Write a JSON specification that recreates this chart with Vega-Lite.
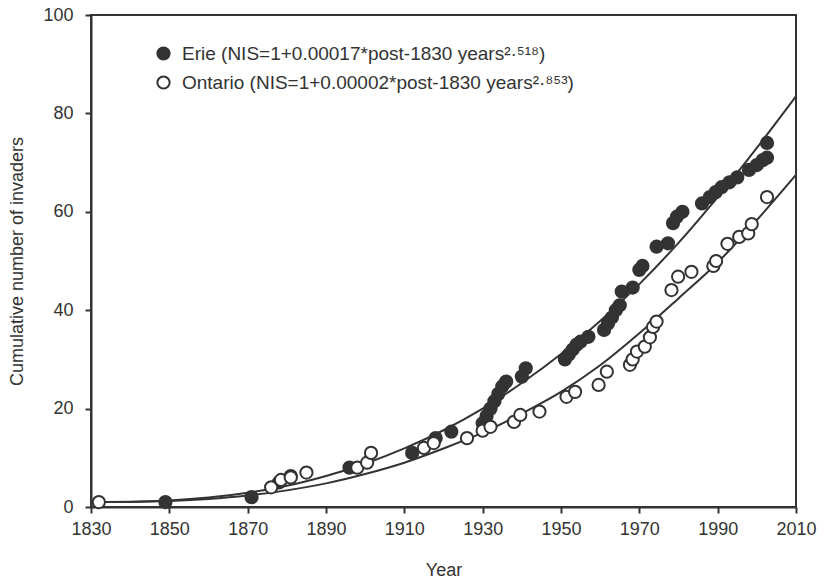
{
  "$schema": "https://vega.github.io/schema/vega-lite/v6.json",
  "width": 705,
  "height": 492,
  "autosize": {"type": "none"},
  "padding": {"left": 91, "top": 15, "right": 38, "bottom": 78},
  "background": "white",
  "config": {
    "view": {"stroke": "#333333", "strokeWidth": 2},
    "font": "Liberation Sans",
    "axis": {
      "domainColor": "#333333", "domainWidth": 2, "tickColor": "#333333", "tickWidth": 2,
      "labelColor": "#333333", "titleColor": "#333333", "labelFontSize": 18, "titleFontSize": 18,
      "titleFontWeight": "normal", "grid": false, "tickSize": 6, "labelFont": "Liberation Sans", "titleFont": "Liberation Sans",
      "labelFlush": false, "labelOverlap": false
    }
  },
  "datasets": {
    "curves": [
      {"series": "Erie", "year": 1830, "value": 1.0},
      {"series": "Erie", "year": 1840, "value": 1.06},
      {"series": "Erie", "year": 1850, "value": 1.33},
      {"series": "Erie", "year": 1860, "value": 1.92},
      {"series": "Erie", "year": 1870, "value": 2.9},
      {"series": "Erie", "year": 1880, "value": 4.3},
      {"series": "Erie", "year": 1890, "value": 6.3},
      {"series": "Erie", "year": 1900, "value": 8.8},
      {"series": "Erie", "year": 1910, "value": 11.9},
      {"series": "Erie", "year": 1920, "value": 15.6},
      {"series": "Erie", "year": 1930, "value": 20.0},
      {"series": "Erie", "year": 1940, "value": 25.2},
      {"series": "Erie", "year": 1950, "value": 31.1},
      {"series": "Erie", "year": 1960, "value": 37.8},
      {"series": "Erie", "year": 1970, "value": 45.3},
      {"series": "Erie", "year": 1980, "value": 53.7},
      {"series": "Erie", "year": 1990, "value": 63.0},
      {"series": "Erie", "year": 2000, "value": 73.0},
      {"series": "Erie", "year": 2010, "value": 83.5},
      {"series": "Ontario", "year": 1830, "value": 1.0},
      {"series": "Ontario", "year": 1840, "value": 1.04},
      {"series": "Ontario", "year": 1850, "value": 1.22},
      {"series": "Ontario", "year": 1860, "value": 1.63},
      {"series": "Ontario", "year": 1870, "value": 2.33},
      {"series": "Ontario", "year": 1880, "value": 3.38},
      {"series": "Ontario", "year": 1890, "value": 4.8},
      {"series": "Ontario", "year": 1900, "value": 6.7},
      {"series": "Ontario", "year": 1910, "value": 9.0},
      {"series": "Ontario", "year": 1920, "value": 11.9},
      {"series": "Ontario", "year": 1930, "value": 15.1},
      {"series": "Ontario", "year": 1940, "value": 19.0},
      {"series": "Ontario", "year": 1950, "value": 23.4},
      {"series": "Ontario", "year": 1960, "value": 28.8},
      {"series": "Ontario", "year": 1970, "value": 35.3},
      {"series": "Ontario", "year": 1980, "value": 42.4},
      {"series": "Ontario", "year": 1990, "value": 49.7},
      {"series": "Ontario", "year": 2000, "value": 58.3},
      {"series": "Ontario", "year": 2010, "value": 67.5}
    ],
    "points": [
      {"series": "Erie", "year": 1849, "value": 1},
      {"series": "Erie", "year": 1871, "value": 2},
      {"series": "Erie", "year": 1878, "value": 5},
      {"series": "Erie", "year": 1881, "value": 6.3},
      {"series": "Erie", "year": 1896, "value": 8},
      {"series": "Erie", "year": 1912, "value": 11},
      {"series": "Erie", "year": 1918, "value": 14},
      {"series": "Erie", "year": 1922, "value": 15.3},
      {"series": "Erie", "year": 1930, "value": 17},
      {"series": "Erie", "year": 1931, "value": 18.5},
      {"series": "Erie", "year": 1932, "value": 20},
      {"series": "Erie", "year": 1933, "value": 21.5},
      {"series": "Erie", "year": 1934, "value": 23},
      {"series": "Erie", "year": 1935, "value": 24.5},
      {"series": "Erie", "year": 1936, "value": 25.5},
      {"series": "Erie", "year": 1940, "value": 26.5},
      {"series": "Erie", "year": 1941, "value": 28.2},
      {"series": "Erie", "year": 1951, "value": 30},
      {"series": "Erie", "year": 1952, "value": 31},
      {"series": "Erie", "year": 1953, "value": 32},
      {"series": "Erie", "year": 1954, "value": 33},
      {"series": "Erie", "year": 1955, "value": 33.6},
      {"series": "Erie", "year": 1957, "value": 34.6},
      {"series": "Erie", "year": 1961, "value": 36},
      {"series": "Erie", "year": 1962, "value": 37.3},
      {"series": "Erie", "year": 1963, "value": 38.5},
      {"series": "Erie", "year": 1964, "value": 40},
      {"series": "Erie", "year": 1965, "value": 41},
      {"series": "Erie", "year": 1965.5, "value": 43.8},
      {"series": "Erie", "year": 1968.3, "value": 44.6},
      {"series": "Erie", "year": 1970, "value": 48.2},
      {"series": "Erie", "year": 1970.8, "value": 49},
      {"series": "Erie", "year": 1974.4, "value": 52.9},
      {"series": "Erie", "year": 1977.3, "value": 53.6},
      {"series": "Erie", "year": 1978.6, "value": 57.7},
      {"series": "Erie", "year": 1979.6, "value": 59},
      {"series": "Erie", "year": 1981, "value": 60},
      {"series": "Erie", "year": 1986, "value": 61.7},
      {"series": "Erie", "year": 1988, "value": 63},
      {"series": "Erie", "year": 1989.5, "value": 64},
      {"series": "Erie", "year": 1991, "value": 65},
      {"series": "Erie", "year": 1993, "value": 66},
      {"series": "Erie", "year": 1995, "value": 67},
      {"series": "Erie", "year": 1998, "value": 68.5},
      {"series": "Erie", "year": 2000, "value": 69.5},
      {"series": "Erie", "year": 2001.5, "value": 70.5},
      {"series": "Erie", "year": 2002.6, "value": 71},
      {"series": "Erie", "year": 2002.6, "value": 74},
      {"series": "Ontario", "year": 1832, "value": 1},
      {"series": "Ontario", "year": 1876, "value": 4},
      {"series": "Ontario", "year": 1878.5, "value": 5.5},
      {"series": "Ontario", "year": 1881, "value": 6},
      {"series": "Ontario", "year": 1885, "value": 7},
      {"series": "Ontario", "year": 1898, "value": 8},
      {"series": "Ontario", "year": 1900.5, "value": 9},
      {"series": "Ontario", "year": 1901.5, "value": 11},
      {"series": "Ontario", "year": 1915, "value": 12},
      {"series": "Ontario", "year": 1917.5, "value": 13},
      {"series": "Ontario", "year": 1926, "value": 14},
      {"series": "Ontario", "year": 1930, "value": 15.5},
      {"series": "Ontario", "year": 1932, "value": 16.3},
      {"series": "Ontario", "year": 1938, "value": 17.3},
      {"series": "Ontario", "year": 1939.6, "value": 18.7},
      {"series": "Ontario", "year": 1944.5, "value": 19.4},
      {"series": "Ontario", "year": 1951.4, "value": 22.4},
      {"series": "Ontario", "year": 1953.6, "value": 23.4},
      {"series": "Ontario", "year": 1959.6, "value": 24.8},
      {"series": "Ontario", "year": 1961.7, "value": 27.5},
      {"series": "Ontario", "year": 1967.6, "value": 28.9},
      {"series": "Ontario", "year": 1968.3, "value": 30},
      {"series": "Ontario", "year": 1969.4, "value": 31.6},
      {"series": "Ontario", "year": 1971.4, "value": 32.6},
      {"series": "Ontario", "year": 1972.7, "value": 34.5},
      {"series": "Ontario", "year": 1973.5, "value": 36.6},
      {"series": "Ontario", "year": 1974.4, "value": 37.7},
      {"series": "Ontario", "year": 1978.2, "value": 44.1},
      {"series": "Ontario", "year": 1979.9, "value": 46.8},
      {"series": "Ontario", "year": 1983.3, "value": 47.8},
      {"series": "Ontario", "year": 1988.9, "value": 49},
      {"series": "Ontario", "year": 1989.6, "value": 50},
      {"series": "Ontario", "year": 1992.5, "value": 53.5},
      {"series": "Ontario", "year": 1995.5, "value": 54.9},
      {"series": "Ontario", "year": 1997.8, "value": 55.6},
      {"series": "Ontario", "year": 1998.7, "value": 57.5},
      {"series": "Ontario", "year": 2002.6, "value": 63}
    ]
  },
  "layer": [
    {
      "data": {"name": "curves"},
      "mark": {"type": "line", "interpolate": "monotone", "color": "#333333", "strokeWidth": 2},
      "encoding": {
        "x": {"field": "year", "type": "quantitative"},
        "y": {"field": "value", "type": "quantitative"},
        "detail": {"field": "series"}
      }
    },
    {
      "data": {"name": "points"},
      "mark": {"type": "point", "filled": false, "shape": "circle", "size": 150, "stroke": "#333333", "strokeWidth": 2, "opacity": 1, "fillOpacity": 1},
      "encoding": {
        "x": {
          "field": "year", "type": "quantitative",
          "scale": {"domain": [1830, 2010], "nice": false, "zero": false},
          "axis": {"title": "Year", "values": [1830, 1850, 1870, 1890, 1910, 1930, 1950, 1970, 1990, 2010], "format": "d", "labelPadding": 7, "titlePadding": 23}
        },
        "y": {
          "field": "value", "type": "quantitative",
          "scale": {"domain": [0, 100], "nice": false},
          "axis": {"title": "Cumulative number of invaders", "values": [0, 20, 40, 60, 80, 100], "labelPadding": 12, "titlePadding": 16}
        },
        "fill": {
          "field": "series", "type": "nominal",
          "scale": {"domain": ["Erie", "Ontario"], "range": ["#333333", "#ffffff"]},
          "legend": {
            "title": null, "orient": "none", "legendX": 63, "legendY": 29, "padding": 0,
            "labelFontSize": 19, "labelColor": "#333333", "labelFont": "Liberation Sans", "labelOffset": 9,
            "symbolType": "circle", "symbolSize": 150, "symbolStrokeColor": "#333333", "symbolStrokeWidth": 2,
            "rowPadding": 8, "labelLimit": 640,
            "labelExpr": "datum.label == 'Erie' ? 'Erie (NIS=1+0.00017*post-1830 years²·⁵¹⁸)' : 'Ontario (NIS=1+0.00002*post-1830 years²·⁸⁵³)'"
          }
        }
      }
    }
  ]
}
